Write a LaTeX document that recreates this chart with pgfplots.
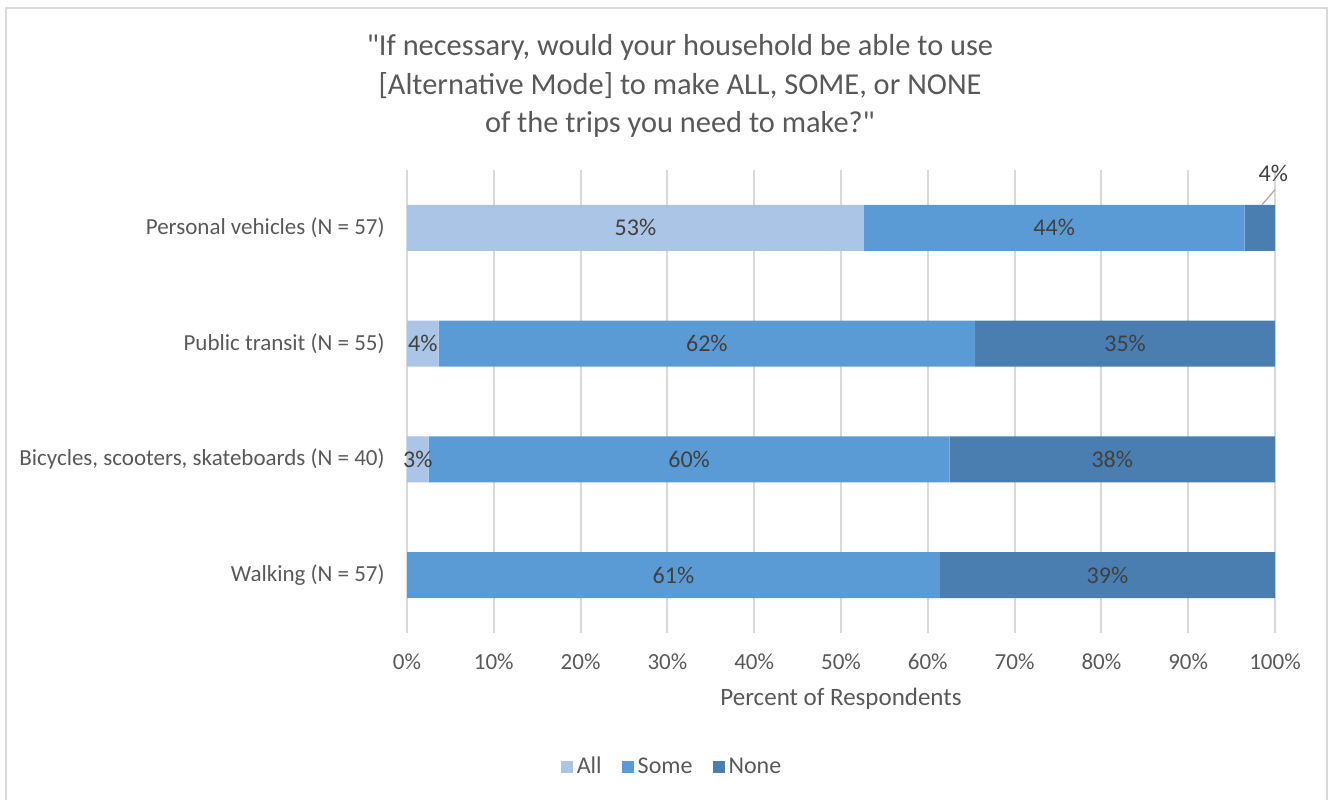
\documentclass[border=0pt]{standalone}
\usepackage{pgfplots}
\pgfplotsset{compat=1.18}
\usepackage{fontspec}
\setmainfont{Carlito}[Ligatures=TeXOff]
\definecolor{cAll}{HTML}{ABC5E6}
\definecolor{cSome}{HTML}{5B9BD5}
\definecolor{cNone}{HTML}{4A7EB1}
\definecolor{txt}{HTML}{595959}
\definecolor{lbl}{HTML}{404040}
\definecolor{grd}{HTML}{D9D9D9}
\pgfplotsset{geom/.style={at={(203.5pt,83pt)}, anchor=south west,
  scale only axis, width=434pt, height=231.5pt,
  xmin=0, xmax=100, ymin=-0.5, ymax=3.5}}
\begin{document}
\begin{tikzpicture}[x=1pt,y=1pt]
\useasboundingbox (0,0) rectangle (664,399.5);
\draw[grd,line width=1pt] (3,-2) -- (3,395.5) -- (663.5,395.5) -- (663.5,-2);
\node[text=txt,font=\fontsize{15.2}{19.25}\selectfont,align=center] at (340,356.5)
  {"If necessary, would your household be able to use\\{}[Alternative Mode] to make ALL, SOME, or NONE\\{}of the trips you need to make?"};
\begin{axis}[
  geom,
  xbar stacked, bar width=23pt,
  axis line style={draw=none},
  major tick length=0pt,
  xmajorgrids, ymajorgrids=false,
  grid style={grd, line width=1pt},
  xtick={0,10,...,100},
  xticklabels={0\%,10\%,20\%,30\%,40\%,50\%,60\%,70\%,80\%,90\%,100\%},
  ytick={0,1,2,3},
  yticklabels={Walking (N = 57),{Bicycles, scooters, skateboards (N = 40)},Public transit (N = 55),Personal vehicles (N = 57)},
  ticklabel style={font=\fontsize{11.5}{13}\selectfont, text=txt, inner sep=0pt},
  xticklabel style={anchor=center, yshift=-14.5pt},
  yticklabel style={anchor=east, xshift=-11pt},
  xlabel={Percent of Respondents},
  xlabel style={at={(axis description cs:0.5,-0.1425)}, anchor=center, font=\fontsize{12.5}{14}\selectfont, text=txt},
  legend columns=3,
  legend style={at={(0.3065,-0.289)}, anchor=center, draw=none, fill=none, font=\fontsize{12}{14}\selectfont, text=txt,
    /tikz/every even column/.append style={column sep=8pt}},
  legend image code/.code={\fill[#1] (-2pt,-3pt) rectangle (4pt,3pt);},
]
\addplot[fill=cAll, draw=none] coordinates {(0,0) (2.5,1) (3.64,2) (52.63,3)};
\addplot[fill=cSome, draw=none] coordinates {(61.40,0) (60,1) (61.82,2) (43.86,3)};
\addplot[fill=cNone, draw=none] coordinates {(38.60,0) (37.5,1) (34.55,2) (3.51,3)};
\legend{All,Some,None}
\end{axis}
\begin{axis}[
  geom, hide axis, clip=false,
  point meta=explicit symbolic,
]
\addplot[draw=none, mark=none, nodes near coords,
  every node near coord/.append style={anchor=center, font=\fontsize{12}{14}\selectfont, text=lbl, inner sep=0pt}]
  coordinates {
  (26.32,3) [53\%] (74.56,3) [44\%] (99.8,3.47) [4\%]
  (1.82,2) [4\%] (34.55,2) [62\%] (82.73,2) [35\%]
  (1.25,1) [3\%] (32.5,1) [60\%] (81.25,1) [38\%]
  (30.70,0) [61\%] (80.70,0) [39\%]
  };
\draw[gray!70, line width=0.6pt] (axis cs:98.5,3.2) -- (axis cs:100,3.33);
\end{axis}
\end{tikzpicture}
\end{document}
